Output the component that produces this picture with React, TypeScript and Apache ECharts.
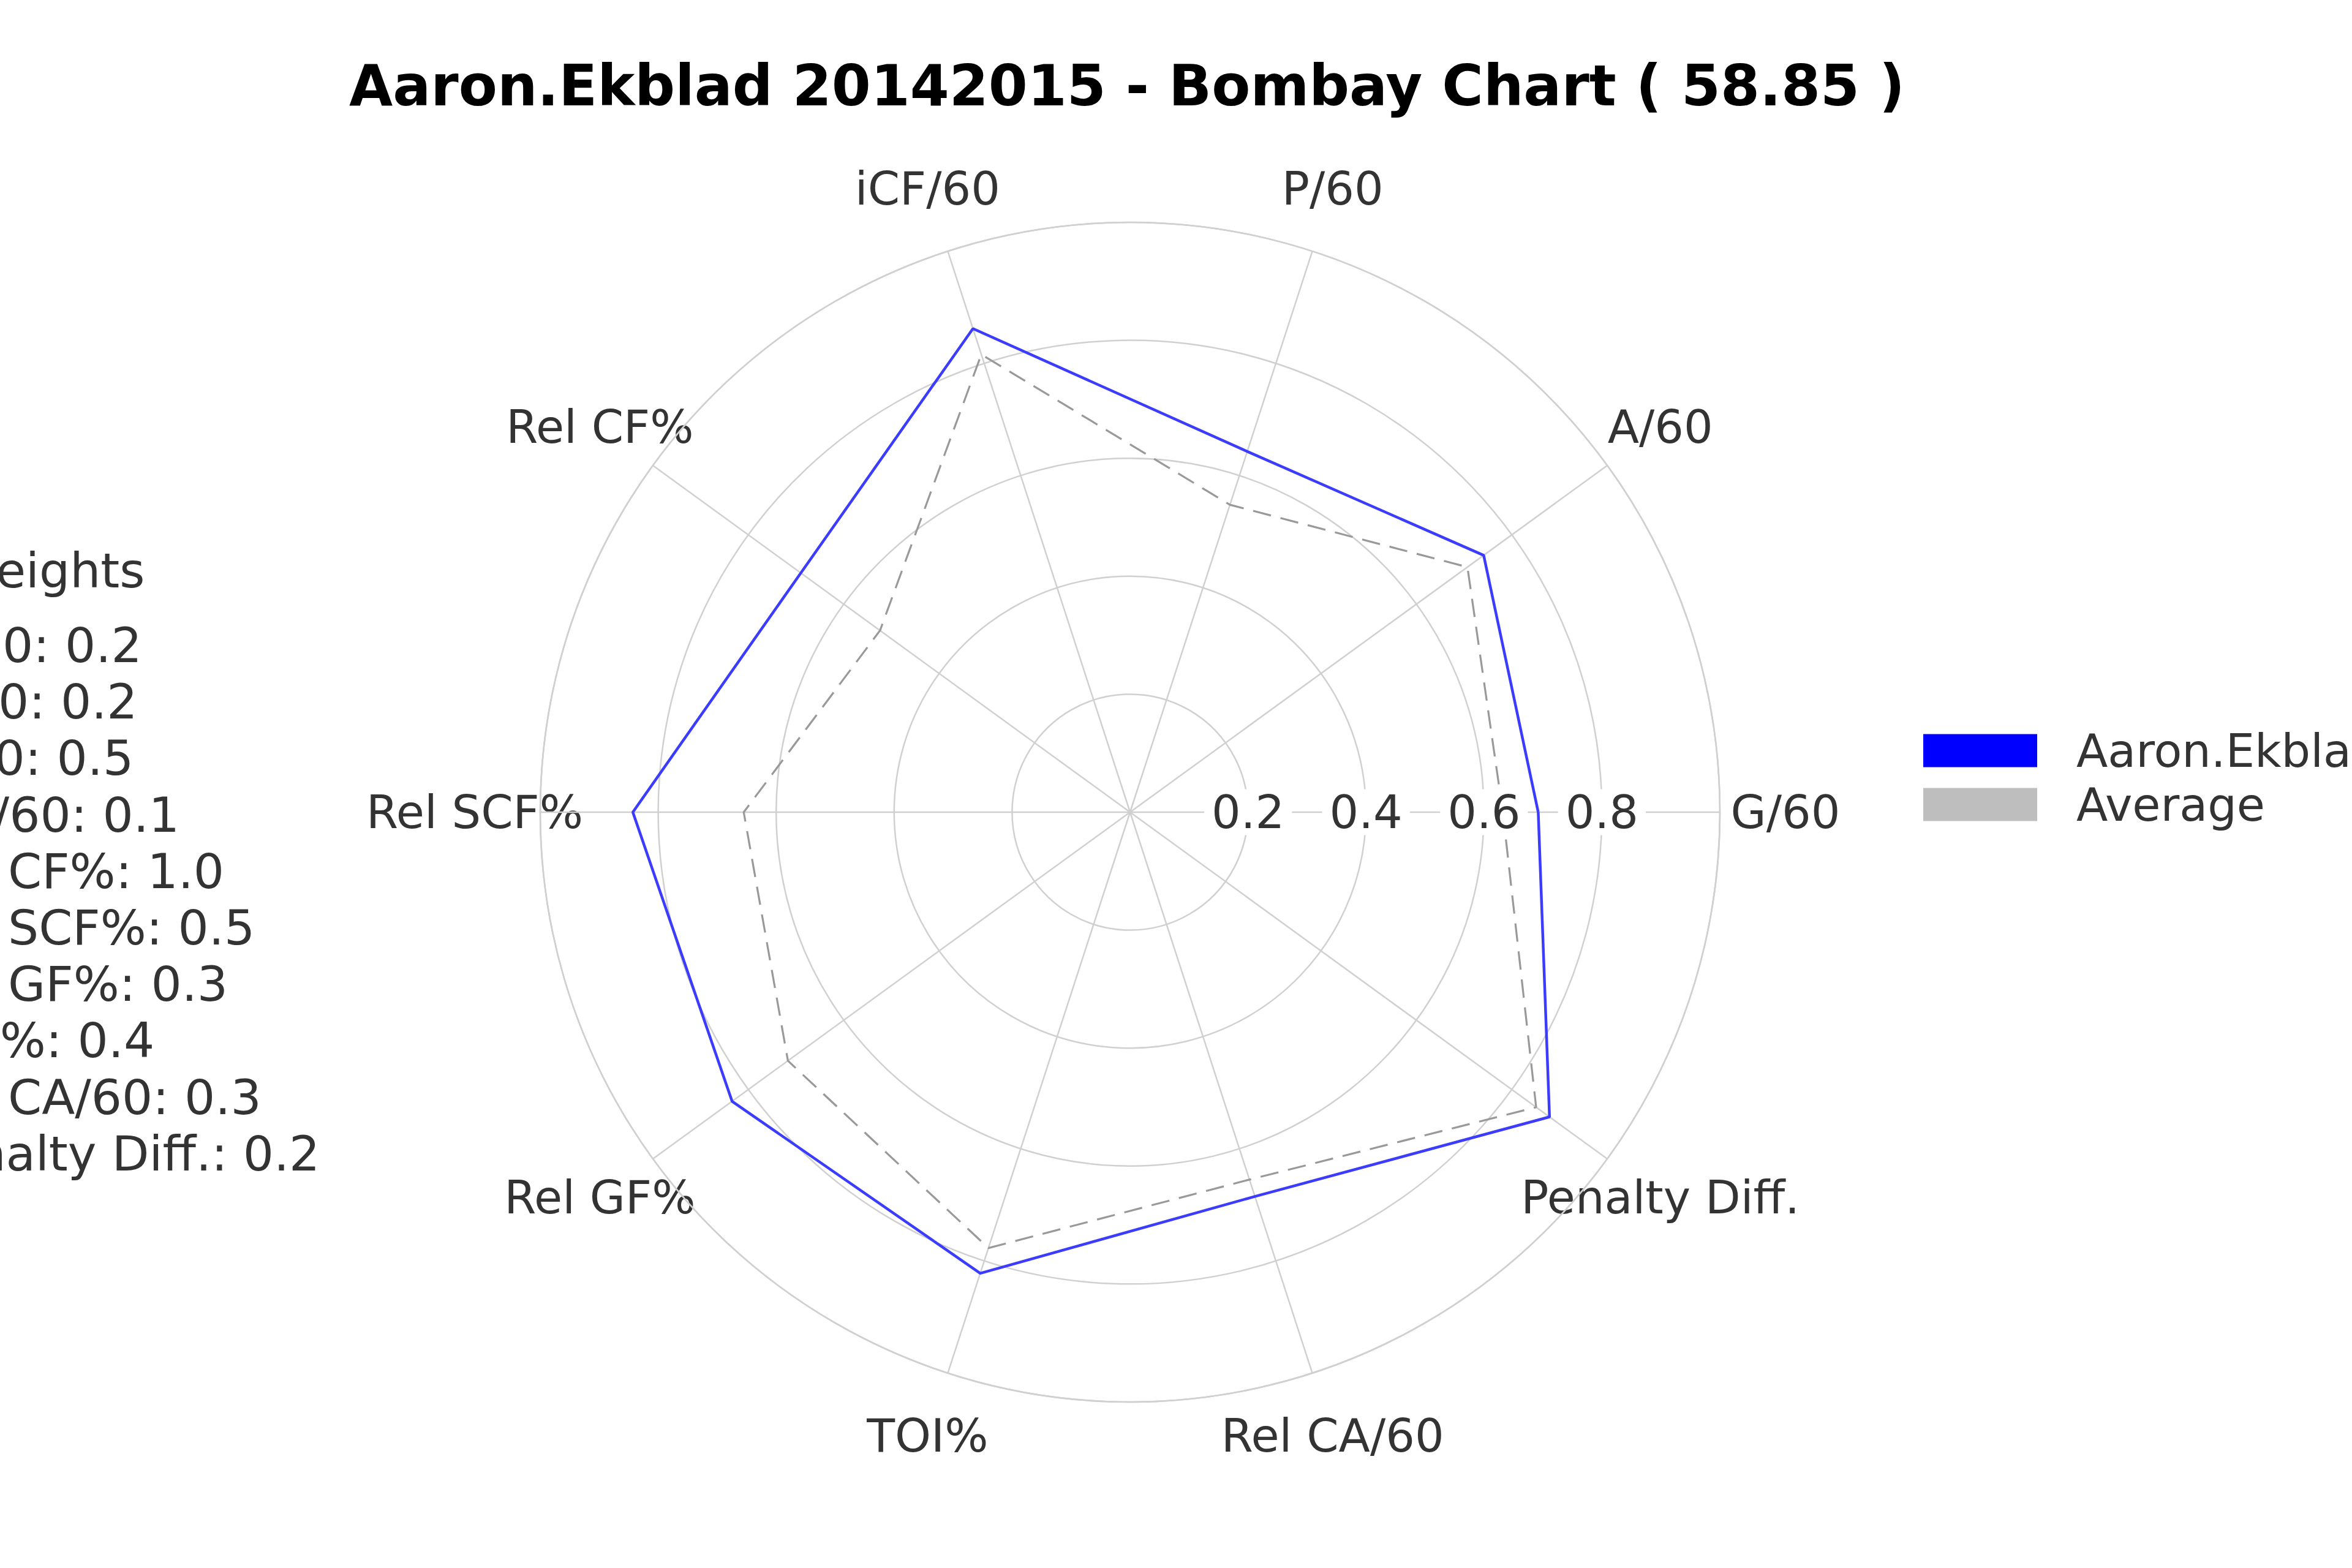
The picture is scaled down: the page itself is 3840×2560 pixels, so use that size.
import React, { useEffect, useRef } from "react";
import * as echarts from "echarts";

// ---------- data ----------
const TITLE = "Aaron.Ekblad 20142015 - Bombay Chart ( 58.85 )";
const PLAYER_NAME = "Aaron.Ekblad";
const AVERAGE_NAME = "Average";
const CATEGORIES = [
  "G/60",
  "A/60",
  "P/60",
  "iCF/60",
  "Rel CF%",
  "Rel SCF%",
  "Rel GF%",
  "TOI%",
  "Rel CA/60",
  "Penalty Diff.",
];
const PLAYER_VALUES = [0.692, 0.741, 0.643, 0.862, 0.69, 0.843, 0.834, 0.822, 0.685, 0.879];
const AVERAGE_VALUES = [0.632, 0.707, 0.548, 0.816, 0.524, 0.655, 0.717, 0.777, 0.655, 0.851];
const TICK_LABELS = ["0.2", "0.4", "0.6", "0.8"];
const WEIGHTS_TITLE = "Weights";
const WEIGHT_NAMES = CATEGORIES;
const WEIGHT_VALUES = [0.2, 0.2, 0.5, 0.1, 1.0, 0.5, 0.3, 0.4, 0.3, 0.2];

// ---------- layout ----------
const W = 3840;
const H = 2560;
const CX = 1845;
const CY = 1326;
const R = 963;
const LABEL_R = 1070;
const FONT = "DejaVu Sans";
const FS = 75;
const WFS = 79;
const GRID_COLOR = "#d0d0d0";
const TEXT_COLOR = "#333333";
const STEP = 360 / CATEGORIES.length;

function closed(values: number[]) {
  const pts = values.map((v, i) => [v, i * STEP]);
  pts.push([values[0], 360]);
  return pts;
}

export default function App() {
  const ref = useRef<HTMLDivElement>(null);

  useEffect(() => {
    document.body.style.margin = "0";
    if (!ref.current) return;
    const chart = echarts.init(ref.current, undefined, { renderer: "svg", width: W, height: H });

    const axisLabelTexts = CATEGORIES.map((c, i) => {
      const a = (i * STEP * Math.PI) / 180;
      return {
        type: "text",
        x: CX + LABEL_R * Math.cos(a),
        y: CY - LABEL_R * Math.sin(a),
        silent: true,
        style: {
          text: c,
          align: "center",
          verticalAlign: "middle",
          textAlign: "center",
          textVerticalAlign: "middle",
          fontSize: FS,
          fontFamily: FONT,
          fill: TEXT_COLOR,
        },
      };
    });

    const weightTexts = WEIGHT_NAMES.map((nm, i) => ({
      type: "text",
      x: -134,
      y: 1054 + i * 92.2,
      silent: true,
      style: {
        text: `${nm}: ${WEIGHT_VALUES[i].toFixed(1)}`,
        align: "left",
        verticalAlign: "middle",
        textAlign: "left",
        textVerticalAlign: "middle",
        fontSize: WFS,
        fontFamily: FONT,
        fill: TEXT_COLOR,
      },
    }));

    const option: any = {
      animation: false,
      backgroundColor: "#ffffff",
      textStyle: { fontFamily: FONT },
      title: {
        text: TITLE,
        left: 1840,
        top: 94,
        padding: 0,
        textAlign: "center",
        textStyle: { fontSize: 92, fontWeight: "bold", color: "#000000", fontFamily: FONT },
      },
      legend: {
        orient: "vertical",
        left: 3140,
        top: 1188,
        padding: 0,
        icon: "rect",
        itemWidth: 186,
        itemHeight: 54,
        itemGap: 13,
        itemStyle: { borderWidth: 0 },
        textStyle: { fontSize: FS, color: TEXT_COLOR, fontFamily: FONT, padding: [0, 0, 0, 59] },
        data: [
          { name: PLAYER_NAME, itemStyle: { color: "#0000ff", borderWidth: 0 } },
          { name: AVERAGE_NAME, itemStyle: { color: "#bebebe", borderWidth: 0 } },
        ],
      },
      polar: [
        { center: [CX, CY], radius: R },
        { center: [CX, CY], radius: R },
      ],
      angleAxis: [
        {
          polarIndex: 0,
          type: "value",
          min: 0,
          max: 360,
          interval: STEP,
          startAngle: 0,
          clockwise: false,
          z: 0,
          axisLine: { show: true, lineStyle: { color: GRID_COLOR, width: 2.5 } },
          axisTick: { show: false },
          axisLabel: { show: false },
          splitLine: { show: true, lineStyle: { color: GRID_COLOR, width: 2.5 } },
        },
        {
          polarIndex: 1,
          type: "value",
          min: 0,
          max: 360,
          interval: STEP,
          startAngle: 0,
          clockwise: false,
          axisLine: { show: false },
          axisTick: { show: false },
          axisLabel: { show: false },
          splitLine: { show: false },
        },
      ],
      radiusAxis: [
        {
          polarIndex: 0,
          type: "value",
          min: 0,
          max: 1,
          interval: 0.2,
          z: 0,
          axisLine: { show: false },
          axisTick: { show: false },
          axisLabel: { show: false },
          splitLine: { show: true, lineStyle: { color: GRID_COLOR, width: 2.5 } },
        },
        {
          polarIndex: 1,
          type: "value",
          min: 0,
          max: 1,
          interval: 0.2,
          z: 10,
          axisLine: { show: false },
          axisTick: { show: false },
          splitLine: { show: false },
          axisLabel: {
            show: true,
            showMinLabel: false,
            showMaxLabel: false,
            margin: 0,
            align: "center",
            verticalAlign: "middle",
            fontSize: FS,
            fontFamily: FONT,
            color: TEXT_COLOR,
            backgroundColor: "#ffffff",
            padding: [0, 12],
            formatter: (v: number) => {
              const s = v.toFixed(1);
              return TICK_LABELS.includes(s) ? s : "";
            },
          },
        },
      ],
      series: [
        {
          name: AVERAGE_NAME,
          type: "line",
          coordinateSystem: "polar",
          polarIndex: 0,
          symbol: "none",
          clip: false,
          z: 2,
          itemStyle: { color: "#bebebe" },
          lineStyle: { color: "#999999", width: 3.2, type: [30, 16] },
          data: closed(AVERAGE_VALUES),
        },
        {
          name: PLAYER_NAME,
          type: "line",
          coordinateSystem: "polar",
          polarIndex: 0,
          symbol: "none",
          clip: false,
          z: 3,
          itemStyle: { color: "#0000ff" },
          lineStyle: { color: "#3c3cff", width: 4.5 },
          data: closed(PLAYER_VALUES),
        },
      ],
      graphic: [
        ...axisLabelTexts,
        {
          type: "text",
          x: -80,
          y: 932,
          silent: true,
          style: {
            text: WEIGHTS_TITLE,
            align: "left",
            verticalAlign: "middle",
            textAlign: "left",
            textVerticalAlign: "middle",
            fontSize: WFS,
            fontFamily: FONT,
            fill: TEXT_COLOR,
          },
        },
        ...weightTexts,
      ],
    };

    chart.setOption(option);
    return () => {
      chart.dispose();
    };
  }, []);

  return (
    <div
      ref={ref}
      style={{ position: "absolute", left: 0, top: 0, width: W, height: H, overflow: "hidden" }}
    />
  );
}
